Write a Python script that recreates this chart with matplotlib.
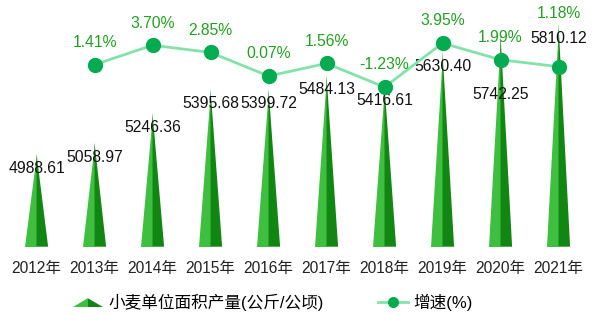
import numpy as np
import matplotlib
matplotlib.use('Agg')
import matplotlib.pyplot as plt
from matplotlib.patches import Polygon
from matplotlib.lines import Line2D
from matplotlib.legend_handler import HandlerBase

plt.rcParams['font.family'] = ['Liberation Sans', 'Noto Sans CJK SC']

years = ['2012年', '2013年', '2014年', '2015年', '2016年',
         '2017年', '2018年', '2019年', '2020年', '2021年']
yield_per_ha = [4988.61, 5058.97, 5246.36, 5395.68, 5399.72,
                5484.13, 5416.61, 5630.40, 5742.25, 5810.12]
growth = [np.nan, 1.41, 3.70, 2.85, 0.07, 1.56, -1.23, 3.95, 1.99, 1.18]

# label offsets in points (the 2020 / 2021 labels are pushed away to avoid overlap)
val_off = [-10.5, -10.5, -10.5, -10.5, -10.5, -10.5, -10.5, -10.5, -43, -10.5]
pct_off = [0, 16, 16, 16, 16, 16, 16, 16, 16, 38]

light = '#3fbf3f'
dark = '#128612'
line_c = '#82e2aa'
dot_c = '#05ab50'
pct_c = '#22a122'

fig = plt.figure(figsize=(5.97, 3.15), dpi=100)
ax = fig.add_axes([0.0126, 0.2168, 0.9715, 0.767])
ax2 = ax.twinx()

x = np.arange(len(years))
bottom = 4400
w = 0.4
for xi, v in zip(x, yield_per_ha):
    ax.add_patch(Polygon([(xi - w / 2, bottom), (xi, bottom), (xi, v)],
                         closed=True, fc=light, ec='none', zorder=2))
    ax.add_patch(Polygon([(xi, bottom), (xi + w / 2, bottom), (xi, v)],
                         closed=True, fc=dark, ec='none', zorder=2))
    
for xi, v, off in zip(x, yield_per_ha, val_off):
    ax.annotate('%.2f' % v, (xi, v), xytext=(0, off), textcoords='offset points',
                ha='center', va='center', fontsize=11.3, color='#111111', zorder=5)

ax.set_xlim(-0.5, len(years) - 0.5)
ax.set_ylim(bottom, 5928)
ax.set_xticks(x)
ax.set_xticklabels(years, fontsize=11.2, color='#222222')
ax.tick_params(axis='x', length=0, pad=10)
ax.set_yticks([])
for s in ax.spines.values():
    s.set_visible(False)

ax2.plot(x, growth, color=line_c, lw=2, zorder=3)
ax2.plot(x, growth, 'o', ms=10, mfc=dot_c, mec=dot_c, zorder=4)
for xi, g, off in zip(x, growth, pct_off):
    if np.isnan(g):
        continue
    ax2.annotate('%.2f%%' % g, (xi, g), xytext=(0, off), textcoords='offset points',
                 ha='center', va='center', fontsize=11.3, color=pct_c)
ax2.set_ylim(-20.04, 8.43)
ax2.set_yticks([])
for s in ax2.spines.values():
    s.set_visible(False)


class SpikeHandler(HandlerBase):
    def create_artists(self, legend, orig_handle, xd, yd, width, height, fontsize, trans):
        y0 = yd + height * 0.05
        y1 = yd + height * 0.8
        p1 = Polygon([(xd, y0), (xd + width / 2, y0), (xd + width / 2, y1)],
                     closed=True, fc=light, ec='none', transform=trans)
        p2 = Polygon([(xd + width / 2, y0), (xd + width, y0), (xd + width / 2, y1)],
                     closed=True, fc=dark, ec='none', transform=trans)
        return [p1, p2]


spike_h = Polygon([[0, 0]], fc=light)
line_h = Line2D([], [], color=line_c, lw=2, marker='o', ms=7, mfc=dot_c, mec=dot_c)
fig.legend([spike_h, line_h], ['小麦单位面积产量(公斤/公顷)', '增速(%)'],
           handler_map={Polygon: SpikeHandler()},
           loc='center left', bbox_to_anchor=(73 / 597, 1 - 302 / 315), ncol=2,
           frameon=False, fontsize=12, handlelength=1.8, handletextpad=0.3,
           columnspacing=3.3, borderpad=0, borderaxespad=0)

fig.savefig('out.png', dpi=100)
